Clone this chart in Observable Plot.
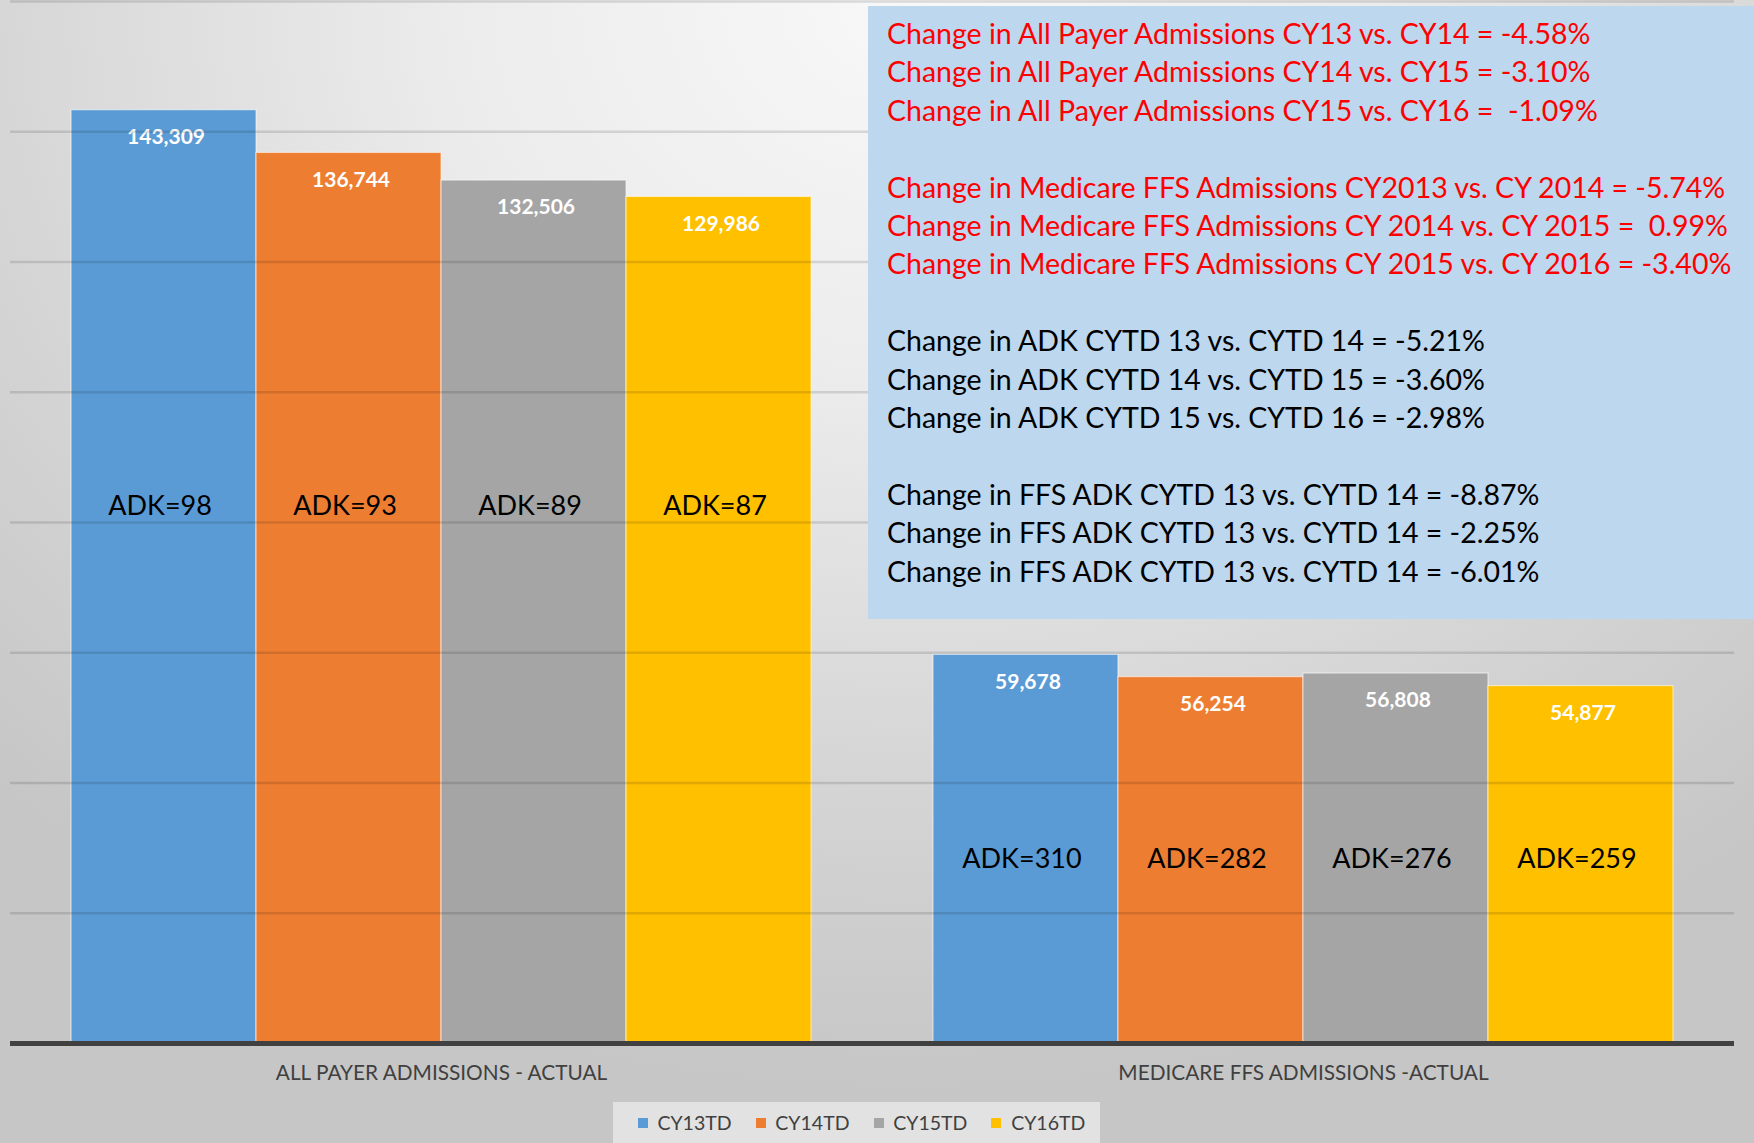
<!DOCTYPE html>
<html>
<head>
<meta charset="utf-8">
<script src="https://cdn.jsdelivr.net/npm/d3@7"></script>
<script src="https://cdn.jsdelivr.net/npm/@observablehq/plot@0.6"></script>
<style>
  html, body { margin: 0; padding: 0; overflow: hidden; }
  #wrap {
    position: relative; width: 1754px; height: 1143px;
    font-family: Lato, sans-serif;
    background: radial-gradient(ellipse 75% 95% at 52% 0%, #f8f8f8 0%, #ececec 35%, #d6d6d6 70%, #c6c6c6 100%);
  }
  #chart, #grid { position: absolute; left: 0; top: 0; }
  #grid { pointer-events: none; }
  #notes {
    position: absolute; left: 868px; top: 6px; width: 886px; height: 613px;
    background: #bdd7ee; box-sizing: border-box;
    padding: 8px 0 0 19px;
    font-size: 28.5px; line-height: 38.4px; white-space: pre; color: #000;
  }
  #notes .red { color: #ff0000; }
  #legendbox {
    position: absolute; left: 613px; top: 1102px; width: 487px; height: 41px;
    background: #e2e2e2; display: flex; align-items: center; justify-content: center;
    box-sizing: border-box; padding-left: 10px;
  }
  #legendbox [class$="-swatch"] { margin-right: 24px !important; }
  #legendbox [class$="-swatch"]:last-child { margin-right: 0 !important; }
</style>
</head>
<body>
<div id="wrap"><div id="chart"></div><div id="grid"></div><div id="notes"></div><div id="legendbox"></div></div>
<script>
const groups = ["ALL PAYER ADMISSIONS - ACTUAL", "MEDICARE FFS ADMISSIONS -ACTUAL"];
const series = ["CY13TD", "CY14TD", "CY15TD", "CY16TD"];
const colors = ["#5b9bd5", "#ed7d31", "#a5a5a5", "#ffc000"];
const allPayer = [143309, 136744, 132506, 129986];
const medicareFFS = [59678, 56254, 56808, 54877];
const adkAllPayer = [98, 93, 89, 87];
const adkMedicare = [310, 282, 276, 259];
const yTicks = [20000, 40000, 60000, 80000, 100000, 120000, 140000, 160000];
const notesRed = [
  "Change in All Payer Admissions CY13 vs. CY14 = -4.58%",
  "Change in All Payer Admissions CY14 vs. CY15 = -3.10%",
  "Change in All Payer Admissions CY15 vs. CY16 =  -1.09%",
  "",
  "Change in Medicare FFS Admissions CY2013 vs. CY 2014 = -5.74%",
  "Change in Medicare FFS Admissions CY 2014 vs. CY 2015 =  0.99%",
  "Change in Medicare FFS Admissions CY 2015 vs. CY 2016 = -3.40%"
];
const notesBlack = [
  "Change in ADK CYTD 13 vs. CYTD 14 = -5.21%",
  "Change in ADK CYTD 14 vs. CYTD 15 = -3.60%",
  "Change in ADK CYTD 15 vs. CYTD 16 = -2.98%",
  "",
  "Change in FFS ADK CYTD 13 vs. CYTD 14 = -8.87%",
  "Change in FFS ADK CYTD 13 vs. CYTD 14 = -2.25%",
  "Change in FFS ADK CYTD 13 vs. CYTD 14 = -6.01%"
];

const table = [];
series.forEach((s, i) => {
  table.push({group: groups[0], series: s, value: allPayer[i], adk: adkAllPayer[i]});
  table.push({group: groups[1], series: s, value: medicareFFS[i], adk: adkMedicare[i]});
});
const fmt = d3.format(",");

const frame = {width: 1754, height: 1100, marginLeft: 10, marginRight: 20, marginTop: 1, marginBottom: 57};
const yScale = {domain: [0, 160000], axis: null};

const plot = Plot.plot({
  ...frame,
  style: {background: "transparent", fontFamily: "Lato, sans-serif", overflow: "visible"},
  fx: {domain: groups, paddingInner: 0.1415, paddingOuter: 0.0708, round: false, label: null},
  x: {domain: series, padding: 0, round: false, axis: null},
  y: yScale,
  color: {domain: series, range: colors},
  marks: [
    Plot.barY(table, {fx: "group", x: "series", y: "value", fill: "series", stroke: "#ffffff", strokeOpacity: 0.55, strokeWidth: 1.2}),
    Plot.text(table, {fx: "group", x: "series", y: "value", text: d => fmt(d.value), dy: 27, dx: 2, fill: "#ffffff", fontWeight: "bold", fontSize: 21}),
    Plot.text(table, {fx: "group", x: "series", y: d => d.group === groups[0] ? 82500 : 28200, text: d => "ADK=" + d.adk, dx: -4, fill: "#000", fontSize: 27}),
    Plot.axisFx({anchor: "bottom", tickSize: 0, tickPadding: 22, fontSize: 20.8, fill: "#404040", label: null})
  ]
});
document.getElementById("chart").appendChild(plot);

const grid = Plot.plot({
  ...frame,
  style: {background: "transparent", overflow: "visible"},
  y: yScale,
  marks: [
    Plot.ruleY(yTicks, {stroke: "#000", strokeOpacity: 0.12, strokeWidth: 2.5}),
    Plot.ruleY([0], {stroke: "#404040", strokeWidth: 5})
  ]
});
document.getElementById("grid").appendChild(grid);

const notes = document.getElementById("notes");
notes.innerHTML = notesRed.map(t => `<div class="red">${t || " "}</div>`).join("") +
  `<div> </div>` + notesBlack.map(t => `<div>${t || " "}</div>`).join("");

const legend = Plot.legend({
  color: {domain: series, range: colors},
  legend: "swatches", swatchSize: 10,
  style: {fontSize: "19.5px", fontFamily: "Lato, sans-serif", color: "#404040", marginBottom: "0", minHeight: "0"}
});
document.getElementById("legendbox").appendChild(legend);
</script>
</body>
</html>
